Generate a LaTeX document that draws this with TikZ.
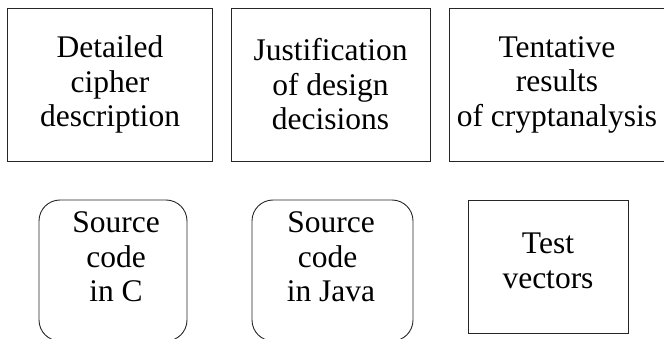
\documentclass[tikz,border=0pt]{standalone}
\usepackage{fontspec}
\setmainfont{LiberationSerif}[Extension=.ttf, UprightFont=*-Regular, BoldFont=*-Bold, ItalicFont=*-Italic]
\begin{document}
\begin{tikzpicture}[x=1pt, y=-1pt,
  frame/.style={draw=black!85, line width=0.9pt, inner sep=0pt, outer sep=0pt},
  roundframe/.style={frame, rounded corners=21pt},
  lbl/.style={align=center, inner sep=0pt, font=\fontsize{31.5}{34.5}\selectfont}]
\useasboundingbox (0,0) rectangle (664,339);
\clip (0,0) rectangle (664,339);

% upper row: document parts
\node[frame, minimum width=205pt, minimum height=153pt] (desc) at (109.5,84.5) {};
\node[frame, minimum width=199pt, minimum height=153pt] (just) at (330.5,84.5) {};
\node[frame, minimum width=221pt, minimum height=153pt] (anal) at (559.5,84.5) {};
\node[lbl] (descT) at (110,84.5) {Detailed\\cipher\\description};
\node[lbl] (justT) at (just.center) {Justification\\of design\\decisions};
\node[lbl] (analT) at (557,84.5) {Tentative\\results\\of cryptanalysis};

% lower row: code and test data
\node[roundframe, minimum width=148pt, minimum height=141pt] (srcc) at (113,270.5) {};
\node[roundframe, minimum width=161pt, minimum height=141pt] (srcj) at (332.5,270.5) {};
\node[frame, minimum width=160pt, minimum height=133pt] (test) at (548,266.5) {};
\node[lbl] (srccT) at (116,257) {Source\\code\\in C};
\node[lbl] (srcjT) at (331,257) {Source\\code\kern7pt\\in Java};
\node[lbl] (testT) at (548,261) {Test\\vectors};
\end{tikzpicture}
\end{document}
